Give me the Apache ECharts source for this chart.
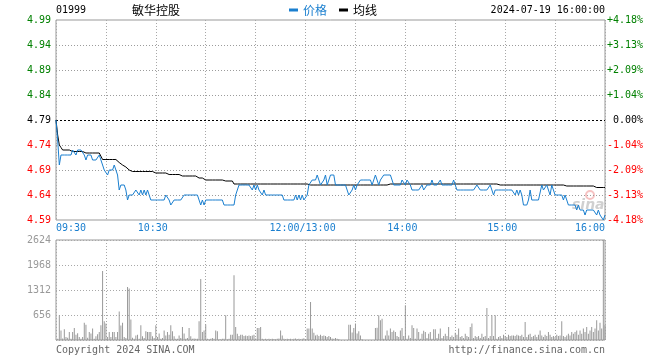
<!DOCTYPE html>
<html><head><meta charset="utf-8">
<script src="https://cdn.jsdelivr.net/npm/echarts@6/dist/echarts.min.js"></script>
<style>html,body{margin:0;padding:0;background:#fff}#c{width:660px;height:360px}</style>
</head><body><div id="c"></div>
<script>
const stockCode = '01999';
const stockName = '敏华控股';
const dateText = '2024-07-19 16:00:00';
const copyrightText = 'Copyright 2024 SINA.COM';
const siteText = 'http://finance.sina.com.cn';
const prevClose = 4.79;
const priceTicks = ['4.59','4.64','4.69','4.74','4.79','4.84','4.89','4.94','4.99'];
const pctTicks = ['-4.18%','-3.13%','-2.09%','-1.04%','0.00%','+1.04%','+2.09%','+3.13%','+4.18%'];
const timeTickMinutes = [0, 60, 150, 210, 270, 330];
const timeTickLabels = ['09:30','10:30','12:00/13:00','14:00','15:00','16:00'];
const volTicks = [656, 1312, 1968, 2624];

// one value per trading minute, 09:30 .. 12:00 / 13:00 .. 16:00
const price = [
4.79,4.75,4.70,4.72,4.72,4.72,4.72,4.72,4.72,4.72,
4.73,4.73,4.72,4.73,4.73,4.73,4.73,4.72,4.71,4.72,
4.72,4.72,4.71,4.71,4.71,4.71,4.72,4.71,4.70,4.69,
4.69,4.68,4.69,4.69,4.69,4.70,4.70,4.68,4.65,4.66,
4.66,4.66,4.65,4.63,4.64,4.64,4.64,4.64,4.65,4.65,
4.64,4.65,4.64,4.65,4.64,4.65,4.65,4.63,4.63,4.63,
4.63,4.63,4.63,4.63,4.63,4.63,4.64,4.64,4.63,4.62,
4.62,4.63,4.63,4.63,4.63,4.63,4.63,4.64,4.64,4.64,
4.64,4.64,4.64,4.64,4.64,4.64,4.63,4.62,4.63,4.62,
4.63,4.63,4.63,4.63,4.63,4.63,4.63,4.63,4.63,4.63,
4.63,4.62,4.62,4.62,4.62,4.62,4.62,4.62,4.64,4.65,
4.66,4.66,4.66,4.66,4.66,4.66,4.66,4.66,4.65,4.66,
4.65,4.66,4.65,4.65,4.64,4.65,4.64,4.64,4.64,4.64,
4.64,4.64,4.64,4.64,4.64,4.64,4.64,4.63,4.63,4.63,
4.63,4.63,4.63,4.63,4.64,4.63,4.64,4.63,4.64,4.63,
4.63,4.64,4.66,4.66,4.67,4.67,4.67,4.68,4.68,4.66,
4.66,4.67,4.68,4.66,4.66,4.68,4.68,4.68,4.66,4.66,
4.66,4.66,4.66,4.66,4.66,4.65,4.64,4.64,4.65,4.66,
4.65,4.66,4.66,4.67,4.67,4.67,4.67,4.67,4.67,4.67,
4.66,4.66,4.68,4.68,4.66,4.67,4.67,4.68,4.68,4.68,
4.68,4.68,4.68,4.66,4.66,4.66,4.66,4.66,4.67,4.67,
4.66,4.67,4.67,4.66,4.65,4.65,4.65,4.65,4.65,4.65,
4.66,4.65,4.65,4.66,4.66,4.66,4.67,4.66,4.66,4.66,
4.66,4.67,4.66,4.66,4.66,4.66,4.66,4.66,4.66,4.67,
4.66,4.65,4.65,4.65,4.65,4.65,4.65,4.65,4.65,4.65,
4.65,4.65,4.65,4.66,4.66,4.65,4.65,4.65,4.65,4.65,
4.65,4.66,4.65,4.64,4.65,4.65,4.65,4.65,4.65,4.65,
4.65,4.65,4.65,4.65,4.65,4.65,4.64,4.65,4.64,4.65,
4.64,4.62,4.62,4.62,4.63,4.65,4.63,4.63,4.63,4.63,
4.63,4.63,4.66,4.65,4.65,4.66,4.66,4.64,4.66,4.65,
4.64,4.64,4.64,4.64,4.64,4.63,4.64,4.63,4.62,4.62,
4.62,4.62,4.62,4.61,4.62,4.61,4.61,4.61,4.60,4.61,
4.61,4.61,4.61,4.61,4.61,4.60,4.61,4.60,4.60,4.59,
4.60
];

const avg = [
4.790,4.760,4.740,4.735,4.730,4.730,4.730,4.730,4.730,4.730,
4.727,4.727,4.727,4.727,4.727,4.727,4.727,4.724,4.724,4.724,
4.724,4.724,4.724,4.724,4.724,4.724,4.724,4.720,4.711,4.711,
4.711,4.711,4.711,4.711,4.711,4.711,4.711,4.708,4.705,4.703,
4.700,4.699,4.696,4.693,4.690,4.687,4.687,4.687,4.687,4.687,
4.687,4.687,4.687,4.687,4.687,4.687,4.687,4.687,4.687,4.684,
4.684,4.684,4.684,4.684,4.684,4.684,4.684,4.681,4.681,4.681,
4.681,4.681,4.681,4.681,4.681,4.681,4.678,4.678,4.678,4.678,
4.678,4.678,4.678,4.678,4.678,4.674,4.674,4.674,4.674,4.670,
4.670,4.670,4.670,4.670,4.670,4.670,4.670,4.670,4.670,4.670,
4.670,4.668,4.668,4.668,4.668,4.668,4.668,4.662,4.662,4.662,
4.662,4.662,4.662,4.662,4.662,4.662,4.662,4.662,4.662,4.662,
4.662,4.662,4.662,4.662,4.662,4.662,4.662,4.662,4.662,4.662,
4.662,4.662,4.662,4.662,4.662,4.662,4.662,4.662,4.662,4.662,
4.662,4.662,4.662,4.662,4.662,4.662,4.662,4.662,4.662,4.662,
4.662,4.662,4.660,4.660,4.660,4.660,4.660,4.660,4.660,4.660,
4.660,4.660,4.660,4.660,4.660,4.660,4.660,4.660,4.660,4.660,
4.660,4.660,4.660,4.660,4.660,4.660,4.660,4.660,4.660,4.660,
4.660,4.660,4.660,4.660,4.660,4.660,4.660,4.660,4.660,4.660,
4.660,4.660,4.660,4.660,4.660,4.660,4.660,4.660,4.660,4.660,
4.660,4.662,4.662,4.662,4.662,4.662,4.662,4.662,4.662,4.662,
4.662,4.662,4.662,4.662,4.662,4.662,4.662,4.662,4.662,4.662,
4.662,4.662,4.662,4.662,4.662,4.662,4.662,4.662,4.662,4.662,
4.662,4.662,4.662,4.662,4.662,4.662,4.662,4.662,4.662,4.662,
4.662,4.662,4.662,4.662,4.662,4.662,4.662,4.662,4.662,4.662,
4.662,4.662,4.662,4.662,4.662,4.662,4.662,4.662,4.662,4.662,
4.662,4.662,4.662,4.662,4.662,4.662,4.662,4.660,4.660,4.660,
4.660,4.660,4.660,4.660,4.660,4.660,4.660,4.660,4.660,4.660,
4.660,4.660,4.660,4.660,4.660,4.660,4.660,4.660,4.660,4.660,
4.660,4.660,4.660,4.660,4.660,4.660,4.660,4.660,4.660,4.660,
4.660,4.660,4.660,4.660,4.660,4.660,4.660,4.658,4.658,4.658,
4.658,4.658,4.658,4.658,4.658,4.658,4.658,4.658,4.658,4.658,
4.658,4.658,4.658,4.658,4.655,4.655,4.655,4.655,4.655,4.655,
4.655
];

const volume = [
0,30,650,250,40,280,80,60,210,30,
210,315,140,180,80,35,80,450,400,60,
210,170,300,35,100,150,210,385,1811,490,
430,80,210,80,210,210,80,210,750,380,
450,80,50,1390,1350,540,60,35,120,140,
30,385,100,50,230,210,210,210,100,50,
385,80,170,35,50,250,120,210,140,385,
230,100,35,35,120,50,340,170,30,50,
315,100,35,40,30,35,490,1600,210,250,
410,35,20,35,50,30,250,230,20,20,
35,30,650,20,35,140,140,1700,340,165,
105,140,140,105,120,105,120,105,120,140,
40,315,315,340,35,20,35,20,30,20,
35,25,20,35,40,250,120,35,20,30,
25,35,20,30,40,25,35,20,30,45,
25,300,300,1000,300,190,120,140,105,140,
105,120,105,80,105,80,40,30,50,30,
20,0,0,0,0,0,400,400,200,315,
430,170,230,120,20,0,0,0,0,0,
0,0,315,320,650,520,560,35,120,250,
120,300,210,250,210,105,80,250,315,105,
910,35,120,50,385,315,35,300,210,35,
165,245,210,50,165,210,35,280,280,50,
165,300,50,105,165,105,340,80,120,80,
190,140,300,80,105,50,165,105,80,340,
430,50,105,80,105,50,165,80,105,840,
50,105,650,105,650,35,80,105,50,140,
105,80,140,105,120,120,105,140,120,105,
140,80,470,80,140,165,80,105,140,80,
140,250,120,80,140,105,210,140,80,105,
80,140,105,120,490,105,80,120,165,120,
210,165,210,250,140,250,165,300,210,340,
165,250,340,210,300,520,250,455,300,2624,
385
];

const BLUE = '#1a7fcf';
const MONO = '"DejaVu Sans Mono", monospace';
const CJK = '"Noto Sans CJK SC", sans-serif';
const tickColor = i => (i < 4 ? '#ff0000' : (i === 4 ? '#000000' : '#008000'));
const mkGridLine = () => ({ show: true, lineStyle: { color: '#a8a8a8', type: [1, 2], width: 1 } });

const baseGraphic = [
  { type: 'text', x: 56, y: 10, style: { text: stockCode, font: '10px ' + MONO, fill: '#000', align: 'left', verticalAlign: 'middle' } },
  { type: 'text', x: 132, y: 10, style: { text: stockName, font: '12px ' + CJK, fill: '#000', align: 'left', verticalAlign: 'middle' } },
  { type: 'text', x: 605, y: 10, style: { text: dateText, font: '10px ' + MONO, fill: '#000', align: 'right', verticalAlign: 'middle' } },
  { type: 'text', x: 56, y: 350, style: { text: copyrightText, font: '10px ' + MONO, fill: '#666', align: 'left', verticalAlign: 'middle' } },
  { type: 'text', x: 605, y: 350, style: { text: siteText, font: '10px ' + MONO, fill: '#666', align: 'right', verticalAlign: 'middle' } },
  { type: 'circle', z: 1, shape: { cx: 590, cy: 195, r: 4 }, style: { fill: 'none', stroke: 'rgba(235,120,120,0.45)', lineWidth: 2 } },
  { type: 'text', z: 1, x: 572, y: 205, style: { text: 'sina', font: 'italic bold 14px "DejaVu Sans", sans-serif', fill: 'rgba(150,150,150,0.45)', align: 'left', verticalAlign: 'middle' } }
];

const chart = echarts.init(document.getElementById('c'), null, { renderer: 'canvas' });
chart.setOption({
  animation: false,
  backgroundColor: '#fff',
  grid: [
    { left: 56, top: 20, width: 549, height: 200, show: true, borderColor: '#999', borderWidth: 1, backgroundColor: 'rgba(0,0,0,0)' },
    { left: 56, top: 240, width: 549, height: 100, show: true, borderColor: '#999', borderWidth: 1, backgroundColor: 'rgba(0,0,0,0)' }
  ],
  legend: {
    left: 284, top: -1, itemWidth: 9, itemHeight: 3, itemGap: 12, icon: 'rect',
    textStyle: { fontSize: 12, fontFamily: CJK },
    data: [
      { name: '价格', textStyle: { color: BLUE } },
      { name: '均线', textStyle: { color: '#000' } }
    ]
  },
  xAxis: [
    {
      type: 'value', gridIndex: 0, min: 0, max: 330, interval: 30,
      axisLine: { show: false }, axisTick: { show: false }, splitLine: mkGridLine(),
      axisLabel: {
        show: true, margin: 3, fontSize: 10, fontFamily: MONO, color: BLUE, verticalAlign: 'top',
        showMinLabel: true, showMaxLabel: true, alignMinLabel: 'left', alignMaxLabel: 'right',
        formatter: v => {
          const i = timeTickMinutes.indexOf(Math.round(v));
          if (i < 0) return '';
          return (i > 0 && i < timeTickMinutes.length - 1) ? '{s|' + timeTickLabels[i] + '}' : timeTickLabels[i];
        },
        rich: { s: { padding: [0, 6, 0, 0], fontSize: 10, fontFamily: MONO, color: BLUE } }
      }
    },
    {
      type: 'value', gridIndex: 1, min: 0, max: 330, interval: 30,
      axisLine: { show: false }, axisTick: { show: false }, axisLabel: { show: false }, splitLine: mkGridLine()
    }
  ],
  yAxis: [
    { type: 'value', gridIndex: 0, min: 4.59, max: 4.99, position: 'left',
      axisLine: { show: false }, axisTick: { show: false }, axisLabel: { show: false }, splitLine: { show: false } },
    {
      type: 'category', gridIndex: 0, position: 'left', offset: 0, data: priceTicks, boundaryGap: false,
      axisLine: { show: false }, axisTick: { show: false }, splitLine: { show: false },
      axisLabel: { interval: 0, margin: 5, fontSize: 10, fontFamily: MONO, padding: [0, 0, 4, 0],
        color: (v, i) => tickColor(i) }
    },
    {
      type: 'category', gridIndex: 0, position: 'right', data: pctTicks, boundaryGap: false,
      axisLine: { show: false }, axisTick: { show: false }, splitLine: { show: false },
      axisLabel: { interval: 0, margin: 38, align: 'right', fontSize: 10, fontFamily: MONO, padding: [0, 0, 4, 0],
        color: (v, i) => tickColor(i) }
    },
    {
      type: 'value', gridIndex: 1, min: 0, max: volTicks[volTicks.length - 1], interval: volTicks[0],
      axisLine: { show: false }, axisTick: { show: false }, splitLine: mkGridLine(),
      axisLabel: { margin: 5, fontSize: 10, fontFamily: MONO, color: '#999', padding: [0, 0, 4, 0],
        formatter: v => (volTicks.indexOf(v) >= 0 ? String(v) : '') }
    }
  ],
  series: [
    {
      name: '价格', type: 'line', xAxisIndex: 0, yAxisIndex: 0,
      data: price.map((p, i) => [i, p]), symbol: 'none', z: 4,
      lineStyle: { color: BLUE, width: 1 }, itemStyle: { color: BLUE }
    },
    {
      name: '均线', type: 'line', xAxisIndex: 0, yAxisIndex: 0,
      data: avg.map((p, i) => [i, p]), symbol: 'none', z: 3,
      lineStyle: { color: '#000', width: 1 }, itemStyle: { color: '#000' }
    },
    {
      name: '成交量', type: 'bar', xAxisIndex: 1, yAxisIndex: 3,
      data: volume.map((v, i) => [i, v]), barWidth: 1, itemStyle: { color: '#999' }
    }
  ],
  graphic: baseGraphic
});

// horizontal price grid lines, positioned through the price axis scale
const gx1 = chart.convertToPixel({ xAxisIndex: 0 }, 0);
const gx2 = chart.convertToPixel({ xAxisIndex: 0 }, 330);
const priceGridLines = priceTicks.slice(1, -1).map(t => {
  const v = parseFloat(t);
  const y = Math.round(chart.convertToPixel({ yAxisIndex: 0 }, v)) + 0.5;
  const isPrev = Math.abs(v - prevClose) < 1e-9;
  return {
    type: 'line', silent: true, z: 2,
    shape: { x1: gx1, y1: y, x2: gx2, y2: y },
    style: { stroke: isPrev ? '#000' : '#9c9c9c', lineWidth: 1, lineDash: isPrev ? [2, 2] : [1, 2] }
  };
});
chart.setOption({ graphic: baseGraphic.concat(priceGridLines) });
</script>
</body></html>
